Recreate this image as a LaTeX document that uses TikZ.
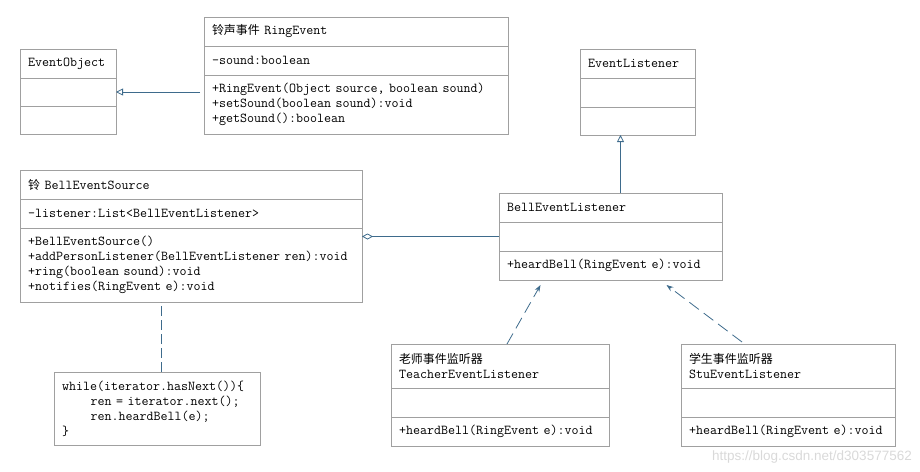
\documentclass[tikz,border=0pt]{standalone}
\usepackage{fontspec}
\setsansfont{Liberation Sans}
\newfontfamily\cjk[Scale=0.88]{Noto Sans CJK SC}
\usepackage{xcolor}
\usepackage{tikz}
\usetikzlibrary{arrows.meta, positioning}
\definecolor{boxgray}{HTML}{A0A0A0}
\definecolor{linkblue}{HTML}{3E6B8C}
\newcommand{\umlfont}{\fontsize{13.6}{15}\selectfont\ttfamily}

\begin{document}
\begin{tikzpicture}[
        x=1pt, y=-1pt,
        part/.style={rectangle, draw=boxgray, line width=0.8pt, anchor=north west, outer sep=0pt,
            inner xsep=8pt, inner ysep=0pt, align=left, font=\umlfont},
        gen/.style={draw=linkblue, line width=0.8pt, -{Triangle[open, length=7pt, width=7pt]}},
        agg/.style={draw=linkblue, line width=0.8pt, {Diamond[open, length=11pt, width=6pt]}-},
        dep/.style={draw=linkblue, line width=0.8pt, dash pattern=on 12pt off 6pt, -{Stealth[length=7pt, width=5pt]}},
        notelink/.style={draw=linkblue, line width=0.8pt, dash pattern=on 10pt off 4pt}
    ]
        \useasboundingbox (0,0) rectangle (920,471);

        % EventObject
        \node[part, text width=80pt, minimum height=29pt] (eo-h) at (20,49) {EventObject};
        \node[part, text width=80pt, minimum height=28pt, below=0pt of eo-h] (eo-a) {};
        \node[part, text width=80pt, minimum height=28pt, below=0pt of eo-a] (eo-o) {};

        % RingEvent
        \node[part, text width=288pt, minimum height=29pt] (re-h) at (204,17) {{\cjk 铃声事件} RingEvent};
        \node[part, text width=288pt, minimum height=29pt, below=0pt of re-h] (re-a) {-sound:boolean};
        \node[part, text width=288pt, minimum height=59pt, below=0pt of re-a] (re-o)
            {+RingEvent(Object source, boolean sound)\\+setSound(boolean sound):void\\+getSound():boolean};

        % EventListener
        \node[part, text width=99pt, minimum height=29pt] (el-h) at (580,49) {EventListener};
        \node[part, text width=99pt, minimum height=29pt, below=0pt of el-h] (el-a) {};
        \node[part, text width=99pt, minimum height=28pt, below=0pt of el-a] (el-o) {};

        % BellEventListener
        \node[part, text width=207pt, minimum height=29pt] (bl-h) at (499,193) {BellEventListener};
        \node[part, text width=207pt, minimum height=29pt, below=0pt of bl-h] (bl-a) {};
        \node[part, text width=207pt, minimum height=29pt, below=0pt of bl-a] (bl-o) {+heardBell(RingEvent e):void};

        % BellEventSource
        \node[part, text width=326pt, minimum height=29pt] (bs-h) at (20,170) {{\cjk 铃} BellEventSource};
        \node[part, text width=326pt, minimum height=29pt, below=0pt of bs-h] (bs-a) {-listener:List<BellEventListener>};
        \node[part, text width=326pt, minimum height=74pt, below=0pt of bs-a] (bs-o)
            {+BellEventSource()\\+addPersonListener(BellEventListener ren):void\\+ring(boolean sound):void\\+notifies(RingEvent e):void};

        % note
        \node[part, text width=190pt, minimum height=73pt] (nt) at (54,372)
            {while(iterator.hasNext())\{\\\hspace*{2.1em}ren = iterator.next();\\\hspace*{2.1em}ren.heardBell(e);\\\}};

        % TeacherEventListener
        \node[part, text width=202pt, minimum height=44pt] (te-h) at (391,344) {{\cjk 老师事件监听器}\\TeacherEventListener};
        \node[part, text width=202pt, minimum height=29pt, below=0pt of te-h] (te-a) {};
        \node[part, text width=202pt, minimum height=29pt, below=0pt of te-a] (te-o) {+heardBell(RingEvent e):void};

        % StuEventListener
        \node[part, text width=198pt, minimum height=44pt] (st-h) at (681,344) {{\cjk 学生事件监听器}\\StuEventListener};
        \node[part, text width=198pt, minimum height=29pt, below=0pt of st-h] (st-a) {};
        \node[part, text width=198pt, minimum height=29pt, below=0pt of st-a] (st-o) {+heardBell(RingEvent e):void};

        % connectors
        \draw[gen] ([xshift=-4pt]re-o.west |- eo-a.east) -- (eo-a.east);
        \coordinate (bl-top) at ([xshift=10pt]bl-h.north);
        \draw[gen] (bl-top) -- (bl-top |- el-o.south);
        \draw[agg] (bs-o.east |- bl-a.west) -- (bl-a.west);
        \coordinate (nt-top) at ([xshift=4pt]nt.north);
        \draw[notelink] (nt-top) -- (nt-top |- bs-o.south);
        \draw[dep] ([xshift=7pt]te-h.north) -- ([xshift=-70pt, yshift=-5pt]bl-o.south);
        \draw[dep] ([xshift=-46pt, yshift=2pt]st-h.north) -- ([xshift=56pt, yshift=-5pt]bl-o.south);

        \node[anchor=south east, inner sep=0pt, text=gray!30, font=\fontsize{13.5}{14}\selectfont\sffamily] (wm) at (912,463)
            {https://blog.csdn.net/d303577562};
    \end{tikzpicture}
\end{document}
